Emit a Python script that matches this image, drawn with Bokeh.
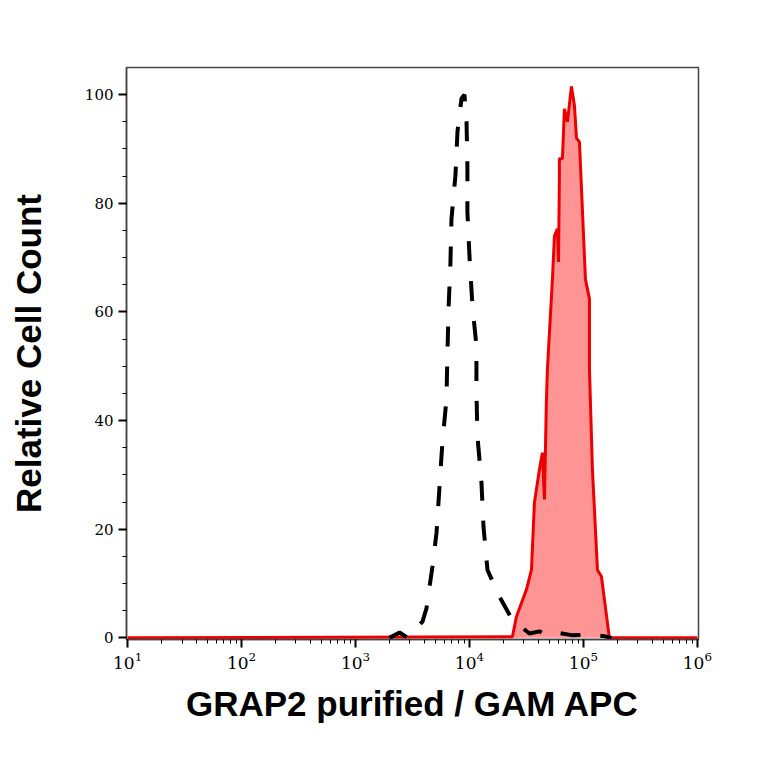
from bokeh.embed import file_html
from bokeh.resources import INLINE
from bokeh.plotting import figure
from bokeh.models import LogTicker, FixedTicker

# isotype control (black dashed) - x in fluorescence units, y relative count
ctrl_x = [1986, 2430, 2860, 3870, 4200, 4460, 4730, 5140, 5460, 5790, 6280,
          6410, 6550, 6810, 6950, 7530, 7850, 8510, 9040, 9420, 9590, 9590,
          10000, 10620, 11510, 11510, 11750, 12740, 13270, 14390, 18320,
          23820, 33600, 41100, 48300, 61500, 78500, 113000, 152700, 176200]
ctrl_y = [0, 1.0, 0, 3.0, 5.5, 9.4, 13.1, 19.4, 27.9, 36.0, 43.9,
          52.6, 60.5, 69.2, 77.1, 85.1, 93.2, 99.3, 100, 95.0, 86.9, 78.4,
          70.3, 61.1, 53.7, 45.2, 37.1, 28.6, 20.5, 12.5, 7.6,
          3.3, 0.8, 1.2, 0.4, 0.9, 0.5, 0.6, 0.3, 0]

# GRAP2 stained sample (red filled)
grap_x = [10, 23820, 25820, 31620, 34990, 37150, 41110, 43650, 45500, 47300,
          48300, 53460, 55700, 59160, 60400, 61520, 61520, 65460, 68100,
          72440, 78520, 83400, 86900, 92260, 104200, 113000, 113000, 120000,
          132800, 143900, 169000, 1000000]
grap_y = [0, 0.2, 3.9, 8.9, 12.5, 24.9, 31.0, 34.1, 25.5, 43.4,
          49.4, 66.0, 74.0, 75.3, 69.2, 84.5, 88.2, 88.2, 97.4,
          95.0, 101.5, 98.0, 92.0, 91.3, 66.0, 62.4, 49.4, 31.0,
          12.5, 11.3, 0, 0]

y_ticks = [0, 20, 40, 60, 80, 100]

p = figure(width=748, height=748, x_axis_type="log",
           x_range=(10 ** 0.99, 10 ** 6.01), y_range=(-0.3, 105),
           output_backend="svg", toolbar_location=None, tools="",
           min_border_left=126, min_border_top=67,
           min_border_right=50, min_border_bottom=109)

p.patch(grap_x, grap_y, fill_color="#ff0000", fill_alpha=0.42, line_color=None)
p.line(grap_x, grap_y, line_color="#ee0000", line_width=3)
p.line(ctrl_x, ctrl_y, line_color="black", line_width=4, line_dash="20 20")

p.grid.grid_line_color = None
p.outline_line_color = "#444444"
p.outline_line_width = 1.5

p.xaxis.ticker = LogTicker(num_minor_ticks=10)
p.yaxis.ticker = FixedTicker(ticks=y_ticks,
                             minor_ticks=[v for v in range(0, 105, 5)])

for ax in (p.xaxis[0], p.yaxis[0]):
    ax.axis_line_color = "#444444"
    ax.axis_line_width = 1.5
    ax.major_tick_in = 0
    ax.major_tick_out = 8
    ax.minor_tick_in = 0
    ax.minor_tick_out = 4
    ax.major_tick_line_width = 2
    ax.major_label_text_font = "DejaVu Serif"
    ax.major_label_text_font_size = "15px"
    ax.major_label_text_color = "black"
    ax.axis_label_text_font = "Liberation Sans"
    ax.axis_label_text_font_style = "bold"
    ax.axis_label_text_font_size = "35px"
    ax.axis_label_text_color = "black"

p.xaxis.major_label_text_font_size = "17px"
p.xaxis.major_label_standoff = 4
p.yaxis.major_label_standoff = 5
p.xaxis.axis_label = "GRAP2 purified / GAM APC"
p.yaxis.axis_label = "Relative Cell Count"
p.xaxis.axis_label_standoff = 12
p.yaxis.axis_label_standoff = 34

open("out.html", "w").write(file_html(p, INLINE))
